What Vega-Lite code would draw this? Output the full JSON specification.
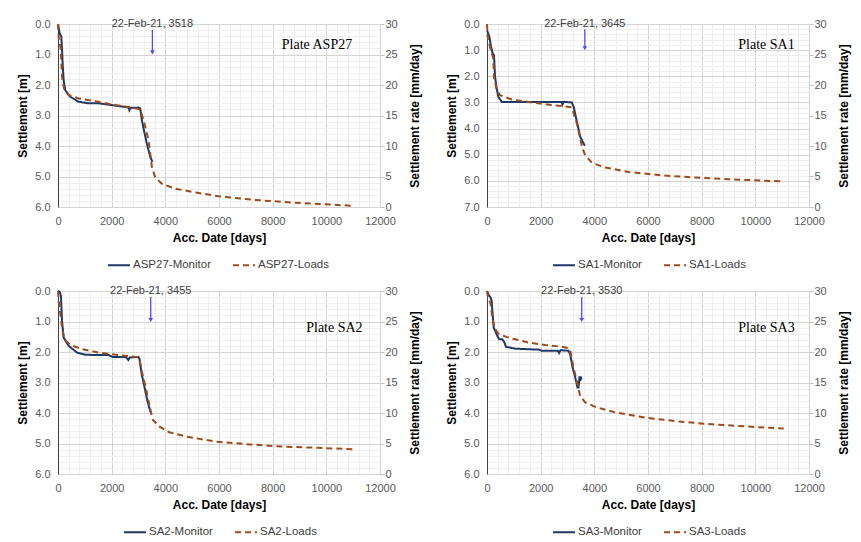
{
  "$schema": "https://vega.github.io/schema/vega-lite/v6.json",
  "description": "Settlement of four plates: monitored versus load-model curves, 2x2 panels.",
  "background": "white",
  "padding": {"left": 16, "top": 18, "right": 10, "bottom": 5},
  "columns": 2,
  "spacing": {"row": 14, "column": 24},
  "resolve": {"scale": {"color": "independent", "strokeDash": "independent"}},
  "config": {
    "view": {"stroke": null},
    "font": "Liberation Sans",
    "axis": {
      "labelFont": "Liberation Sans",
      "labelFontSize": 11,
      "labelColor": "#595959",
      "labelFlush": false,
      "titleFont": "Liberation Sans",
      "titleFontSize": 12,
      "titleFontWeight": "bold",
      "titleColor": "#000000",
      "labelOverlap": false,
      "ticks": false,
      "domain": false
    },
    "legend": {
      "orient": "none",
      "legendX": 49,
      "legendY": 229,
      "direction": "horizontal",
      "symbolType": "stroke",
      "symbolSize": 484,
      "symbolStrokeWidth": 2,
      "labelFont": "Liberation Sans",
      "labelFontSize": 11.5,
      "labelColor": "#404040",
      "labelOffset": 2,
      "columnPadding": 18
    }
  },
  "concat": [
    {
      "width": 322,
      "height": 183,
      "data": {"values": [
        {"series": "ASP27-Monitor", "day": 0, "s": 0},
        {"series": "ASP27-Monitor", "day": 30, "s": 0.15},
        {"series": "ASP27-Monitor", "day": 60, "s": 0.3},
        {"series": "ASP27-Monitor", "day": 125, "s": 0.42},
        {"series": "ASP27-Monitor", "day": 150, "s": 0.85},
        {"series": "ASP27-Monitor", "day": 180, "s": 1.4},
        {"series": "ASP27-Monitor", "day": 210, "s": 1.84},
        {"series": "ASP27-Monitor", "day": 270, "s": 2.17},
        {"series": "ASP27-Monitor", "day": 460, "s": 2.39},
        {"series": "ASP27-Monitor", "day": 770, "s": 2.55},
        {"series": "ASP27-Monitor", "day": 1140, "s": 2.6},
        {"series": "ASP27-Monitor", "day": 1510, "s": 2.6},
        {"series": "ASP27-Monitor", "day": 2010, "s": 2.66},
        {"series": "ASP27-Monitor", "day": 2500, "s": 2.72},
        {"series": "ASP27-Monitor", "day": 2640, "s": 2.74},
        {"series": "ASP27-Monitor", "day": 2660, "s": 2.82},
        {"series": "ASP27-Monitor", "day": 2700, "s": 2.75},
        {"series": "ASP27-Monitor", "day": 3000, "s": 2.74},
        {"series": "ASP27-Monitor", "day": 3065, "s": 2.77},
        {"series": "ASP27-Monitor", "day": 3125, "s": 3.15},
        {"series": "ASP27-Monitor", "day": 3190, "s": 3.43},
        {"series": "ASP27-Monitor", "day": 3310, "s": 3.92},
        {"series": "ASP27-Monitor", "day": 3440, "s": 4.36},
        {"series": "ASP27-Monitor", "day": 3518, "s": 4.52},
        {"series": "ASP27-Loads", "day": 0, "s": 0},
        {"series": "ASP27-Loads", "day": 25, "s": 0.45},
        {"series": "ASP27-Loads", "day": 60, "s": 0.6},
        {"series": "ASP27-Loads", "day": 100, "s": 0.8},
        {"series": "ASP27-Loads", "day": 150, "s": 1.73},
        {"series": "ASP27-Loads", "day": 235, "s": 2.17},
        {"series": "ASP27-Loads", "day": 400, "s": 2.33},
        {"series": "ASP27-Loads", "day": 770, "s": 2.44},
        {"series": "ASP27-Loads", "day": 1510, "s": 2.55},
        {"series": "ASP27-Loads", "day": 2010, "s": 2.64},
        {"series": "ASP27-Loads", "day": 2750, "s": 2.74},
        {"series": "ASP27-Loads", "day": 3065, "s": 2.8},
        {"series": "ASP27-Loads", "day": 3190, "s": 3.15},
        {"series": "ASP27-Loads", "day": 3375, "s": 3.81},
        {"series": "ASP27-Loads", "day": 3500, "s": 4.69},
        {"series": "ASP27-Loads", "day": 3620, "s": 5.02},
        {"series": "ASP27-Loads", "day": 3870, "s": 5.24},
        {"series": "ASP27-Loads", "day": 4370, "s": 5.4},
        {"series": "ASP27-Loads", "day": 5240, "s": 5.54},
        {"series": "ASP27-Loads", "day": 5980, "s": 5.65},
        {"series": "ASP27-Loads", "day": 7220, "s": 5.76},
        {"series": "ASP27-Loads", "day": 8460, "s": 5.84},
        {"series": "ASP27-Loads", "day": 9700, "s": 5.9},
        {"series": "ASP27-Loads", "day": 10990, "s": 5.96}
      ]},
      "resolve": {"axis": {"x": "independent", "y": "independent"}},
      "layer": [
        {
          "mark": {"type": "line", "strokeWidth": 2},
          "encoding": {
            "x": {"field": "day", "type": "quantitative", "title": "Acc. Date [days]",
              "scale": {"domain": [0, 12000], "nice": false},
              "axis": {"values": [0,400,800,1200,1600,2000,2400,2800,3200,3600,4000,4400,4800,5200,5600,6000,6400,6800,7200,7600,8000,8400,8800,9200,9600,10000,10400,10800,11200,11600,12000],
                "format": "d", "labelExpr": "datum.value % 2000 === 0 ? datum.label : ''",
                "gridColor": {"condition": {"test": "datum.value % 2000 === 0", "value": "#d4d4d4"}, "value": "#efefef"},
                "labelPadding": 8, "titlePadding": 6}},
            "y": {"field": "s", "type": "quantitative", "title": "Settlement [m]",
              "scale": {"domain": [0, 6], "reverse": true, "nice": false},
              "axis": {"values": [0,0.2,0.4,0.6,0.8,1,1.2,1.4,1.6,1.8,2,2.2,2.4,2.6,2.8,3,3.2,3.4,3.6,3.8,4,4.2,4.4,4.6,4.8,5,5.2,5.4,5.6,5.8,6],
                "labelExpr": "datum.value % 1 === 0 ? format(datum.value, '.1f') : ''",
                "gridColor": {"condition": {"test": "datum.value % 1 === 0", "value": "#d4d4d4"}, "value": "#efefef"},
                "domain": true, "domainColor": "#404040", "labelPadding": 8, "titlePadding": 5}},
            "color": {"field": "series", "type": "nominal", "legend": {"title": null},
              "scale": {"domain": ["ASP27-Monitor", "ASP27-Loads"], "range": ["#1f3864", "#9e4b1b"]}},
            "strokeDash": {"field": "series", "type": "nominal", "legend": {"title": null},
              "scale": {"domain": ["ASP27-Monitor", "ASP27-Loads"], "range": [[1, 0], [6, 4]]}}
          }
        },
        {
          "data": {"values": [{"day": 3518, "top": 0.2, "tip": 0.93, "note": "22-Feb-21, 3518"}]},
          "layer": [
            {"mark": {"type": "rule", "color": "#4c4cff", "strokeWidth": 1.3},
             "encoding": {"x": {"field": "day", "type": "quantitative", "axis": null},
               "y": {"field": "top", "type": "quantitative", "axis": null}, "y2": {"field": "tip"}}},
            {"mark": {"type": "point", "shape": "triangle-down", "filled": true, "size": 22, "color": "#4c4cff", "opacity": 1},
             "encoding": {"x": {"field": "day", "type": "quantitative", "axis": null},
               "y": {"field": "tip", "type": "quantitative", "axis": null}}},
            {"mark": {"type": "text", "fontSize": 11, "color": "#404040"},
             "encoding": {"x": {"field": "day", "type": "quantitative", "axis": null},
               "y": {"datum": 0, "type": "quantitative", "axis": null}, "text": {"field": "note"}}}
          ]
        },
        {
          "data": {"values": [{"label": "Plate ASP27", "day": 8340, "s": 0.69}]},
          "mark": {"type": "text", "align": "left", "font": "Liberation Serif", "fontSize": 14, "color": "#000000"},
          "encoding": {
            "x": {"field": "day", "type": "quantitative", "axis": null},
            "y": {"field": "s", "type": "quantitative",
              "axis": {"orient": "right", "values": [0,1,2,3,4,5,6], "labelExpr": "format(30 - 5 * datum.value, 'd')",
                "title": "Settlement rate [mm/day]", "titleAngle": 270, "grid": false, "ticks": true, "tickSize": 4, "tickColor": "#bfbfbf",
                "domain": true, "domainColor": "#d4d4d4", "labelPadding": 1, "titlePadding": 24}},
            "text": {"field": "label"}
          }
        }
      ]
    },
    {
      "width": 322,
      "height": 183,
      "data": {"values": [
        {"series": "SA1-Monitor", "day": 0, "s": 0.25},
        {"series": "SA1-Monitor", "day": 25, "s": 0.3},
        {"series": "SA1-Monitor", "day": 90, "s": 0.49},
        {"series": "SA1-Monitor", "day": 150, "s": 0.87},
        {"series": "SA1-Monitor", "day": 210, "s": 1.12},
        {"series": "SA1-Monitor", "day": 260, "s": 1.19},
        {"series": "SA1-Monitor", "day": 300, "s": 2.02},
        {"series": "SA1-Monitor", "day": 360, "s": 2.46},
        {"series": "SA1-Monitor", "day": 420, "s": 2.78},
        {"series": "SA1-Monitor", "day": 550, "s": 2.98},
        {"series": "SA1-Monitor", "day": 1540, "s": 2.98},
        {"series": "SA1-Monitor", "day": 2790, "s": 2.98},
        {"series": "SA1-Monitor", "day": 2810, "s": 3.08},
        {"series": "SA1-Monitor", "day": 2860, "s": 2.98},
        {"series": "SA1-Monitor", "day": 3160, "s": 3.0},
        {"series": "SA1-Monitor", "day": 3230, "s": 3.17},
        {"series": "SA1-Monitor", "day": 3350, "s": 3.74},
        {"series": "SA1-Monitor", "day": 3475, "s": 4.32},
        {"series": "SA1-Monitor", "day": 3645, "s": 4.66},
        {"series": "SA1-Loads", "day": 0, "s": 0},
        {"series": "SA1-Loads", "day": 25, "s": 0.49},
        {"series": "SA1-Loads", "day": 110, "s": 0.87},
        {"series": "SA1-Loads", "day": 235, "s": 1.32},
        {"series": "SA1-Loads", "day": 260, "s": 2.02},
        {"series": "SA1-Loads", "day": 360, "s": 2.53},
        {"series": "SA1-Loads", "day": 485, "s": 2.72},
        {"series": "SA1-Loads", "day": 920, "s": 2.89},
        {"series": "SA1-Loads", "day": 1540, "s": 2.98},
        {"series": "SA1-Loads", "day": 2170, "s": 3.07},
        {"series": "SA1-Loads", "day": 2790, "s": 3.14},
        {"series": "SA1-Loads", "day": 3160, "s": 3.19},
        {"series": "SA1-Loads", "day": 3350, "s": 3.8},
        {"series": "SA1-Loads", "day": 3540, "s": 4.7},
        {"series": "SA1-Loads", "day": 3660, "s": 5.02},
        {"series": "SA1-Loads", "day": 3910, "s": 5.31},
        {"series": "SA1-Loads", "day": 4410, "s": 5.49},
        {"series": "SA1-Loads", "day": 5280, "s": 5.66},
        {"series": "SA1-Loads", "day": 6530, "s": 5.79},
        {"series": "SA1-Loads", "day": 7770, "s": 5.87},
        {"series": "SA1-Loads", "day": 9020, "s": 5.94},
        {"series": "SA1-Loads", "day": 10260, "s": 5.99},
        {"series": "SA1-Loads", "day": 11070, "s": 6.02}
      ]},
      "resolve": {"axis": {"x": "independent", "y": "independent"}},
      "layer": [
        {
          "mark": {"type": "line", "strokeWidth": 2},
          "encoding": {
            "x": {"field": "day", "type": "quantitative", "title": "Acc. Date [days]",
              "scale": {"domain": [0, 12000], "nice": false},
              "axis": {"values": [0,400,800,1200,1600,2000,2400,2800,3200,3600,4000,4400,4800,5200,5600,6000,6400,6800,7200,7600,8000,8400,8800,9200,9600,10000,10400,10800,11200,11600,12000],
                "format": "d", "labelExpr": "datum.value % 2000 === 0 ? datum.label : ''",
                "gridColor": {"condition": {"test": "datum.value % 2000 === 0", "value": "#d4d4d4"}, "value": "#efefef"},
                "labelPadding": 8, "titlePadding": 6}},
            "y": {"field": "s", "type": "quantitative", "title": "Settlement [m]",
              "scale": {"domain": [0, 7], "reverse": true, "nice": false},
              "axis": {"values": [0,0.2,0.4,0.6,0.8,1,1.2,1.4,1.6,1.8,2,2.2,2.4,2.6,2.8,3,3.2,3.4,3.6,3.8,4,4.2,4.4,4.6,4.8,5,5.2,5.4,5.6,5.8,6,6.2,6.4,6.6,6.8,7],
                "labelExpr": "datum.value % 1 === 0 ? format(datum.value, '.1f') : ''",
                "gridColor": {"condition": {"test": "datum.value % 1 === 0", "value": "#d4d4d4"}, "value": "#efefef"},
                "domain": true, "domainColor": "#404040", "labelPadding": 8, "titlePadding": 5}},
            "color": {"field": "series", "type": "nominal", "legend": {"title": null, "legendX": 65},
              "scale": {"domain": ["SA1-Monitor", "SA1-Loads"], "range": ["#1f3864", "#9e4b1b"]}},
            "strokeDash": {"field": "series", "type": "nominal", "legend": {"title": null, "legendX": 65},
              "scale": {"domain": ["SA1-Monitor", "SA1-Loads"], "range": [[1, 0], [6, 4]]}}
          }
        },
        {
          "data": {"values": [{"day": 3645, "top": 0.2, "tip": 0.93, "note": "22-Feb-21, 3645"}]},
          "layer": [
            {"mark": {"type": "rule", "color": "#4c4cff", "strokeWidth": 1.3},
             "encoding": {"x": {"field": "day", "type": "quantitative", "axis": null},
               "y": {"field": "top", "type": "quantitative", "axis": null}, "y2": {"field": "tip"}}},
            {"mark": {"type": "point", "shape": "triangle-down", "filled": true, "size": 22, "color": "#4c4cff", "opacity": 1},
             "encoding": {"x": {"field": "day", "type": "quantitative", "axis": null},
               "y": {"field": "tip", "type": "quantitative", "axis": null}}},
            {"mark": {"type": "text", "fontSize": 11, "color": "#404040"},
             "encoding": {"x": {"field": "day", "type": "quantitative", "axis": null},
               "y": {"datum": 0, "type": "quantitative", "axis": null}, "text": {"field": "note"}}}
          ]
        },
        {
          "data": {"values": [{"label": "Plate SA1", "day": 9365, "s": 0.8}]},
          "mark": {"type": "text", "align": "left", "font": "Liberation Serif", "fontSize": 14, "color": "#000000"},
          "encoding": {
            "x": {"field": "day", "type": "quantitative", "axis": null},
            "y": {"field": "s", "type": "quantitative",
              "axis": {"orient": "right", "values": [0, 1.1666667, 2.3333333, 3.5, 4.6666667, 5.8333333, 7], "labelExpr": "format(30 - 30 * datum.value / 7, '.0f')",
                "title": "Settlement rate [mm/day]", "titleAngle": 270, "grid": false, "ticks": true, "tickSize": 4, "tickColor": "#bfbfbf",
                "domain": true, "domainColor": "#d4d4d4", "labelPadding": 1, "titlePadding": 24}},
            "text": {"field": "label"}
          }
        }
      ]
    },
    {
      "width": 322,
      "height": 183,
      "data": {"values": [
        {"series": "SA2-Monitor", "day": 0, "s": 0},
        {"series": "SA2-Monitor", "day": 60, "s": 0.02},
        {"series": "SA2-Monitor", "day": 110, "s": 0.16},
        {"series": "SA2-Monitor", "day": 150, "s": 0.98},
        {"series": "SA2-Monitor", "day": 210, "s": 1.53},
        {"series": "SA2-Monitor", "day": 400, "s": 1.8},
        {"series": "SA2-Monitor", "day": 710, "s": 2.02},
        {"series": "SA2-Monitor", "day": 1020, "s": 2.09},
        {"series": "SA2-Monitor", "day": 1520, "s": 2.1},
        {"series": "SA2-Monitor", "day": 1895, "s": 2.1},
        {"series": "SA2-Monitor", "day": 2020, "s": 2.16},
        {"series": "SA2-Monitor", "day": 2520, "s": 2.16},
        {"series": "SA2-Monitor", "day": 2620, "s": 2.26},
        {"series": "SA2-Monitor", "day": 2670, "s": 2.18},
        {"series": "SA2-Monitor", "day": 3000, "s": 2.16},
        {"series": "SA2-Monitor", "day": 3040, "s": 2.24},
        {"series": "SA2-Monitor", "day": 3120, "s": 2.73},
        {"series": "SA2-Monitor", "day": 3200, "s": 3.05},
        {"series": "SA2-Monitor", "day": 3330, "s": 3.6},
        {"series": "SA2-Monitor", "day": 3455, "s": 3.98},
        {"series": "SA2-Loads", "day": 0, "s": 0},
        {"series": "SA2-Loads", "day": 25, "s": 0.33},
        {"series": "SA2-Loads", "day": 60, "s": 0.55},
        {"series": "SA2-Loads", "day": 150, "s": 1.2},
        {"series": "SA2-Loads", "day": 235, "s": 1.58},
        {"series": "SA2-Loads", "day": 460, "s": 1.77},
        {"series": "SA2-Loads", "day": 900, "s": 1.91},
        {"series": "SA2-Loads", "day": 1520, "s": 2.02},
        {"series": "SA2-Loads", "day": 2145, "s": 2.09},
        {"series": "SA2-Loads", "day": 2770, "s": 2.15},
        {"series": "SA2-Loads", "day": 3020, "s": 2.18},
        {"series": "SA2-Loads", "day": 3120, "s": 2.62},
        {"series": "SA2-Loads", "day": 3270, "s": 3.16},
        {"series": "SA2-Loads", "day": 3450, "s": 3.93},
        {"series": "SA2-Loads", "day": 3540, "s": 4.23},
        {"series": "SA2-Loads", "day": 3770, "s": 4.44},
        {"series": "SA2-Loads", "day": 4140, "s": 4.63},
        {"series": "SA2-Loads", "day": 4760, "s": 4.77},
        {"series": "SA2-Loads", "day": 5890, "s": 4.94},
        {"series": "SA2-Loads", "day": 7130, "s": 5.03},
        {"series": "SA2-Loads", "day": 8380, "s": 5.1},
        {"series": "SA2-Loads", "day": 9630, "s": 5.14},
        {"series": "SA2-Loads", "day": 11060, "s": 5.19}
      ]},
      "resolve": {"axis": {"x": "independent", "y": "independent"}},
      "layer": [
        {
          "mark": {"type": "line", "strokeWidth": 2},
          "encoding": {
            "x": {"field": "day", "type": "quantitative", "title": "Acc. Date [days]",
              "scale": {"domain": [0, 12000], "nice": false},
              "axis": {"values": [0,400,800,1200,1600,2000,2400,2800,3200,3600,4000,4400,4800,5200,5600,6000,6400,6800,7200,7600,8000,8400,8800,9200,9600,10000,10400,10800,11200,11600,12000],
                "format": "d", "labelExpr": "datum.value % 2000 === 0 ? datum.label : ''",
                "gridColor": {"condition": {"test": "datum.value % 2000 === 0", "value": "#d4d4d4"}, "value": "#efefef"},
                "labelPadding": 8, "titlePadding": 6}},
            "y": {"field": "s", "type": "quantitative", "title": "Settlement [m]",
              "scale": {"domain": [0, 6], "reverse": true, "nice": false},
              "axis": {"values": [0,0.2,0.4,0.6,0.8,1,1.2,1.4,1.6,1.8,2,2.2,2.4,2.6,2.8,3,3.2,3.4,3.6,3.8,4,4.2,4.4,4.6,4.8,5,5.2,5.4,5.6,5.8,6],
                "labelExpr": "datum.value % 1 === 0 ? format(datum.value, '.1f') : ''",
                "gridColor": {"condition": {"test": "datum.value % 1 === 0", "value": "#d4d4d4"}, "value": "#efefef"},
                "domain": true, "domainColor": "#404040", "labelPadding": 8, "titlePadding": 5}},
            "color": {"field": "series", "type": "nominal", "legend": {"title": null, "legendX": 65},
              "scale": {"domain": ["SA2-Monitor", "SA2-Loads"], "range": ["#1f3864", "#9e4b1b"]}},
            "strokeDash": {"field": "series", "type": "nominal", "legend": {"title": null, "legendX": 65},
              "scale": {"domain": ["SA2-Monitor", "SA2-Loads"], "range": [[1, 0], [6, 4]]}}
          }
        },
        {
          "data": {"values": [{"day": 3455, "top": 0.2, "tip": 0.95, "note": "22-Feb-21, 3455"}]},
          "layer": [
            {"mark": {"type": "rule", "color": "#4c4cff", "strokeWidth": 1.3},
             "encoding": {"x": {"field": "day", "type": "quantitative", "axis": null},
               "y": {"field": "top", "type": "quantitative", "axis": null}, "y2": {"field": "tip"}}},
            {"mark": {"type": "point", "shape": "triangle-down", "filled": true, "size": 22, "color": "#4c4cff", "opacity": 1},
             "encoding": {"x": {"field": "day", "type": "quantitative", "axis": null},
               "y": {"field": "tip", "type": "quantitative", "axis": null}}},
            {"mark": {"type": "text", "fontSize": 11, "color": "#404040"},
             "encoding": {"x": {"field": "day", "type": "quantitative", "axis": null},
               "y": {"datum": 0, "type": "quantitative", "axis": null}, "text": {"field": "note"}}}
          ]
        },
        {
          "data": {"values": [{"label": "Plate SA2", "day": 9250, "s": 1.2}]},
          "mark": {"type": "text", "align": "left", "font": "Liberation Serif", "fontSize": 14, "color": "#000000"},
          "encoding": {
            "x": {"field": "day", "type": "quantitative", "axis": null},
            "y": {"field": "s", "type": "quantitative",
              "axis": {"orient": "right", "values": [0,1,2,3,4,5,6], "labelExpr": "format(30 - 5 * datum.value, 'd')",
                "title": "Settlement rate [mm/day]", "titleAngle": 270, "grid": false, "ticks": true, "tickSize": 4, "tickColor": "#bfbfbf",
                "domain": true, "domainColor": "#d4d4d4", "labelPadding": 1, "titlePadding": 24}},
            "text": {"field": "label"}
          }
        }
      ]
    },
    {
      "width": 322,
      "height": 183,
      "data": {"values": [
        {"series": "SA3-Monitor", "day": 0, "s": 0},
        {"series": "SA3-Monitor", "day": 50, "s": 0.11},
        {"series": "SA3-Monitor", "day": 135, "s": 0.22},
        {"series": "SA3-Monitor", "day": 175, "s": 0.33},
        {"series": "SA3-Monitor", "day": 200, "s": 0.65},
        {"series": "SA3-Monitor", "day": 250, "s": 1.2},
        {"series": "SA3-Monitor", "day": 360, "s": 1.42},
        {"series": "SA3-Monitor", "day": 450, "s": 1.58},
        {"series": "SA3-Monitor", "day": 570, "s": 1.58},
        {"series": "SA3-Monitor", "day": 650, "s": 1.69},
        {"series": "SA3-Monitor", "day": 710, "s": 1.83},
        {"series": "SA3-Monitor", "day": 1045, "s": 1.89},
        {"series": "SA3-Monitor", "day": 1545, "s": 1.91},
        {"series": "SA3-Monitor", "day": 1920, "s": 1.92},
        {"series": "SA3-Monitor", "day": 2040, "s": 1.96},
        {"series": "SA3-Monitor", "day": 2640, "s": 1.96},
        {"series": "SA3-Monitor", "day": 2690, "s": 2.03},
        {"series": "SA3-Monitor", "day": 2740, "s": 1.94},
        {"series": "SA3-Monitor", "day": 3035, "s": 1.96},
        {"series": "SA3-Monitor", "day": 3100, "s": 2.07},
        {"series": "SA3-Monitor", "day": 3190, "s": 2.51},
        {"series": "SA3-Monitor", "day": 3290, "s": 2.84},
        {"series": "SA3-Monitor", "day": 3370, "s": 3.16},
        {"series": "SA3-Monitor", "day": 3410, "s": 3.16},
        {"series": "SA3-Monitor", "day": 3450, "s": 2.8},
        {"series": "SA3-Monitor", "day": 3470, "s": 2.95},
        {"series": "SA3-Monitor", "day": 3510, "s": 2.86},
        {"series": "SA3-Monitor", "day": 3530, "s": 2.9},
        {"series": "SA3-Loads", "day": 0, "s": 0},
        {"series": "SA3-Loads", "day": 50, "s": 0.27},
        {"series": "SA3-Loads", "day": 125, "s": 0.38},
        {"series": "SA3-Loads", "day": 200, "s": 0.87},
        {"series": "SA3-Loads", "day": 275, "s": 1.2},
        {"series": "SA3-Loads", "day": 420, "s": 1.4},
        {"series": "SA3-Loads", "day": 800, "s": 1.53},
        {"series": "SA3-Loads", "day": 1545, "s": 1.69},
        {"series": "SA3-Loads", "day": 2165, "s": 1.77},
        {"series": "SA3-Loads", "day": 2790, "s": 1.83},
        {"series": "SA3-Loads", "day": 3035, "s": 1.87},
        {"series": "SA3-Loads", "day": 3100, "s": 1.96},
        {"series": "SA3-Loads", "day": 3225, "s": 2.51},
        {"series": "SA3-Loads", "day": 3370, "s": 3.05},
        {"series": "SA3-Loads", "day": 3470, "s": 3.44},
        {"series": "SA3-Loads", "day": 3660, "s": 3.65},
        {"series": "SA3-Loads", "day": 4030, "s": 3.8},
        {"series": "SA3-Loads", "day": 4780, "s": 3.98},
        {"series": "SA3-Loads", "day": 5900, "s": 4.15},
        {"series": "SA3-Loads", "day": 7140, "s": 4.28},
        {"series": "SA3-Loads", "day": 8390, "s": 4.37},
        {"series": "SA3-Loads", "day": 9630, "s": 4.44},
        {"series": "SA3-Loads", "day": 11060, "s": 4.51}
      ]},
      "resolve": {"axis": {"x": "independent", "y": "independent"}},
      "layer": [
        {
          "mark": {"type": "line", "strokeWidth": 2},
          "encoding": {
            "x": {"field": "day", "type": "quantitative", "title": "Acc. Date [days]",
              "scale": {"domain": [0, 12000], "nice": false},
              "axis": {"values": [0,400,800,1200,1600,2000,2400,2800,3200,3600,4000,4400,4800,5200,5600,6000,6400,6800,7200,7600,8000,8400,8800,9200,9600,10000,10400,10800,11200,11600,12000],
                "format": "d", "labelExpr": "datum.value % 2000 === 0 ? datum.label : ''",
                "gridColor": {"condition": {"test": "datum.value % 2000 === 0", "value": "#d4d4d4"}, "value": "#efefef"},
                "labelPadding": 8, "titlePadding": 6}},
            "y": {"field": "s", "type": "quantitative", "title": "Settlement [m]",
              "scale": {"domain": [0, 6], "reverse": true, "nice": false},
              "axis": {"values": [0,0.2,0.4,0.6,0.8,1,1.2,1.4,1.6,1.8,2,2.2,2.4,2.6,2.8,3,3.2,3.4,3.6,3.8,4,4.2,4.4,4.6,4.8,5,5.2,5.4,5.6,5.8,6],
                "labelExpr": "datum.value % 1 === 0 ? format(datum.value, '.1f') : ''",
                "gridColor": {"condition": {"test": "datum.value % 1 === 0", "value": "#d4d4d4"}, "value": "#efefef"},
                "domain": true, "domainColor": "#404040", "labelPadding": 8, "titlePadding": 5}},
            "color": {"field": "series", "type": "nominal", "legend": {"title": null, "legendX": 65},
              "scale": {"domain": ["SA3-Monitor", "SA3-Loads"], "range": ["#1f3864", "#9e4b1b"]}},
            "strokeDash": {"field": "series", "type": "nominal", "legend": {"title": null, "legendX": 65},
              "scale": {"domain": ["SA3-Monitor", "SA3-Loads"], "range": [[1, 0], [6, 4]]}}
          }
        },
        {
          "data": {"values": [{"day": 3530, "top": 0.2, "tip": 0.95, "note": "22-Feb-21, 3530"}]},
          "layer": [
            {"mark": {"type": "rule", "color": "#4c4cff", "strokeWidth": 1.3},
             "encoding": {"x": {"field": "day", "type": "quantitative", "axis": null},
               "y": {"field": "top", "type": "quantitative", "axis": null}, "y2": {"field": "tip"}}},
            {"mark": {"type": "point", "shape": "triangle-down", "filled": true, "size": 22, "color": "#4c4cff", "opacity": 1},
             "encoding": {"x": {"field": "day", "type": "quantitative", "axis": null},
               "y": {"field": "tip", "type": "quantitative", "axis": null}}},
            {"mark": {"type": "text", "fontSize": 11, "color": "#404040"},
             "encoding": {"x": {"field": "day", "type": "quantitative", "axis": null},
               "y": {"datum": 0, "type": "quantitative", "axis": null}, "text": {"field": "note"}}}
          ]
        },
        {
          "data": {"values": [{"label": "Plate SA3", "day": 9365, "s": 1.2}]},
          "mark": {"type": "text", "align": "left", "font": "Liberation Serif", "fontSize": 14, "color": "#000000"},
          "encoding": {
            "x": {"field": "day", "type": "quantitative", "axis": null},
            "y": {"field": "s", "type": "quantitative",
              "axis": {"orient": "right", "values": [0,1,2,3,4,5,6], "labelExpr": "format(30 - 5 * datum.value, 'd')",
                "title": "Settlement rate [mm/day]", "titleAngle": 270, "grid": false, "ticks": true, "tickSize": 4, "tickColor": "#bfbfbf",
                "domain": true, "domainColor": "#d4d4d4", "labelPadding": 1, "titlePadding": 24}},
            "text": {"field": "label"}
          }
        }
      ]
    }
  ]
}
